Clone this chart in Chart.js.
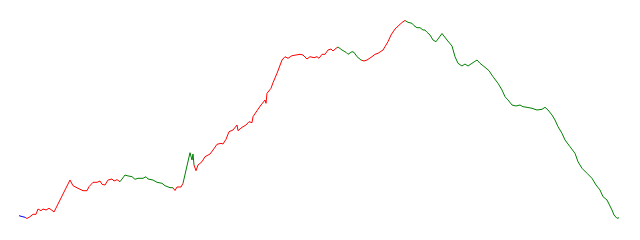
<!DOCTYPE html>
<html>
<head>
<meta charset="utf-8">
<script src="https://cdn.jsdelivr.net/npm/chart.js@4/dist/chart.umd.min.js"></script>
<style>
  html, body { margin: 0; padding: 0; background: #fff; }
  #wrap { width: 640px; height: 240px; position: relative; }
</style>
</head>
<body>
<div id="wrap"><canvas id="c"></canvas></div>
<script>
// Day index of each sample.
const days = [
    0, 3, 6, 8, 11, 14, 17, 19, 22, 24,
    27, 30, 33, 35, 51, 54, 59, 64, 68, 70,
    74, 78, 81, 83, 86, 89, 93, 95, 98, 101,
    106, 108, 113, 116, 119, 124, 127, 129, 134, 138,
    143, 146, 151, 154, 156, 158, 162, 164, 171, 173,
    174, 175, 177, 179, 183, 186, 191, 194, 198, 202,
    204, 207, 210, 214, 218, 219, 223, 227, 230, 233,
    234, 238, 242, 246, 247, 248, 252, 254, 258, 260,
    263, 266, 269, 273, 277, 281, 284, 288, 291, 295,
    298, 300, 303, 306, 309, 312, 314, 317, 319, 323,
    327, 329, 333, 335, 338, 342, 345, 348, 353, 356,
    359, 364, 366, 369, 372, 376, 381, 384, 386, 389,
    393, 395, 398, 401, 404, 406, 408, 411, 414, 417,
    419, 423, 428, 433, 436, 439, 443, 446, 449, 453,
    458, 461, 466, 470, 474, 479, 483, 486, 489, 493,
    497, 501, 504, 508, 513, 518, 523, 526, 529, 533,
    536, 539, 543, 546, 551, 556, 559, 563, 568, 573,
    577, 581, 584, 588, 590, 593, 595, 598, 600,
];

// Value of each sample.
const values = [
    24.3, 23.5, 22.7, 21.5, 23.3, 25.7, 25.7, 31.0, 29.3, 31.0,
    30.0, 31.7, 29.7, 28.0, 60.0, 54.3, 51.7, 49.3, 49.3, 53.3,
    57.7, 57.7, 59.0, 55.7, 55.0, 60.0, 61.0, 59.0, 60.3, 58.3,
    65.0, 64.3, 63.3, 60.7, 61.7, 61.7, 63.3, 61.0, 60.0, 57.7,
    56.7, 54.3, 52.3, 52.3, 49.5, 53.0, 53.0, 56.7, 87.3, 80.0,
    86.0, 75.0, 69.3, 75.0, 78.3, 83.3, 86.0, 90.0, 95.7, 96.7,
    96.0, 100.7, 108.3, 110.0, 115.0, 109.3, 112.7, 115.0, 118.3, 117.3,
    123.3, 129.3, 135.0, 140.0, 136.7, 146.7, 151.7, 157.3, 166.7, 172.0,
    180.0, 183.3, 181.7, 184.3, 185.0, 185.7, 185.0, 181.0, 183.3, 182.3,
    183.3, 181.7, 185.7, 185.7, 190.0, 191.0, 189.0, 191.7, 193.0, 190.0,
    187.7, 185.7, 188.3, 187.7, 183.3, 180.0, 179.0, 180.0, 183.3, 185.7,
    186.7, 190.0, 193.3, 198.3, 205.0, 211.0, 215.7, 218.3, 219.5, 217.7,
    216.7, 214.3, 212.3, 212.3, 210.0, 210.0, 207.7, 205.0, 200.0, 198.3,
    201.0, 206.5, 200.0, 194.0, 183.3, 176.7, 174.0, 176.0, 174.0, 176.7,
    180.0, 176.7, 172.7, 169.3, 163.3, 156.7, 150.0, 143.3, 140.0, 135.0,
    134.0, 135.0, 133.3, 132.7, 131.7, 130.0, 130.7, 132.7, 130.0, 125.0,
    120.0, 113.3, 106.7, 100.0, 93.3, 86.7, 78.3, 71.7, 66.7, 61.7,
    55.0, 50.0, 43.3, 40.0, 36.0, 30.0, 25.0, 21.7, 22.3,
];

// Trend regimes as runs of [regime, number of samples]: b = start, r = up, g = down.
const trendRuns = [
    ['b', 2], ['r', 27], ['g', 14], ['r', 4], ['g', 4],
    ['r', 47], ['g', 7], ['r', 13], ['g', 61],
];

const TREND_COLORS = { b: '#0000ff', r: '#ff0000', g: '#008000' };

// Expand the runs to one regime per sample (the segment starting at it).
const trend = [];
trendRuns.forEach(([k, n]) => { for (let i = 0; i < n; i++) trend.push(k); });

const points = days.map((d, i) => ({ x: d, y: values[i] }));

new Chart(document.getElementById('c').getContext('2d'), {
    type: 'line',
    data: {
        datasets: [{
            data: points,
            borderColor: '#ff0000',
            borderWidth: 1,
            pointRadius: 0,
            tension: 0,
            fill: false,
            segment: {
                borderColor: (ctx) => TREND_COLORS[trend[ctx.p0DataIndex]] || '#008000',
            },
        }],
    },
    options: {
        responsive: true,
        maintainAspectRatio: false,
        animation: false,
        parsing: false,
        layout: { padding: 0 },
        scales: {
            x: { type: 'linear', display: false, min: -19, max: 621 },
            y: { type: 'linear', display: false, min: 0, max: 240 },
        },
        plugins: { legend: { display: false }, tooltip: { enabled: false } },
    },
});
</script>
</body>
</html>
